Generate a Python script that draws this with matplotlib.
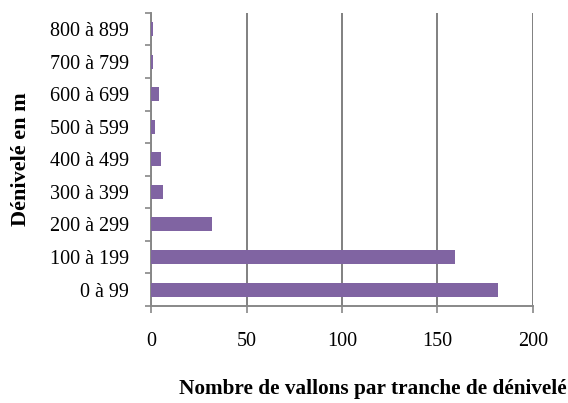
import matplotlib
matplotlib.use("Agg")
import matplotlib.pyplot as plt
import numpy as np

plt.rcParams['font.family'] = ['Liberation Serif', 'DejaVu Serif']

# Number of valleys per elevation-difference band
tranches = ["0 à 99", "100 à 199", "200 à 299", "300 à 399", "400 à 499",
            "500 à 599", "600 à 699", "700 à 799", "800 à 899"]
vallons = [182, 159, 32, 6, 5, 2, 4, 1, 1]

fig = plt.figure(figsize=(5.68, 4.03), dpi=100)
ax = fig.add_axes([0.266, 0.241, 0.672, 0.727])

y = np.arange(len(tranches))
ax.barh(y, vallons, height=0.43, color="#8064a2", zorder=3)

ax.set_xlim(0, 200)
ax.set_ylim(-0.5, len(tranches) - 0.5)
ax.set_xticks([0, 50, 100, 150, 200])
ax.set_yticks(y)
ax.set_yticklabels(tranches)
ax.set_yticks(np.arange(-0.5, len(tranches)), minor=True)
ax.tick_params(axis="y", which="major", length=0, pad=16, labelsize=14.5)
ax.tick_params(axis="y", which="minor", length=4, color="#888888", width=1.2)
ax.tick_params(axis="x", length=5, color="#888888", width=1.2, labelsize=14.5, pad=14)

ax.grid(axis="x", color="#808080", linewidth=1.4, zorder=0)
for side in ["top", "right"]:
    ax.spines[side].set_visible(False)
for side in ["left", "bottom"]:
    ax.spines[side].set_color("#888888")
    ax.spines[side].set_linewidth(1.4)

ax.set_xlabel("Nombre de vallons par tranche de dénivelé", fontsize=15.3,
              fontweight="bold")
ax.set_ylabel("Dénivelé en m", fontsize=16, fontweight="bold")
ax.xaxis.set_label_coords(0.58, -0.25)
ax.yaxis.set_label_coords(-0.314, 0.5)

fig.savefig("out.png", dpi=100)
